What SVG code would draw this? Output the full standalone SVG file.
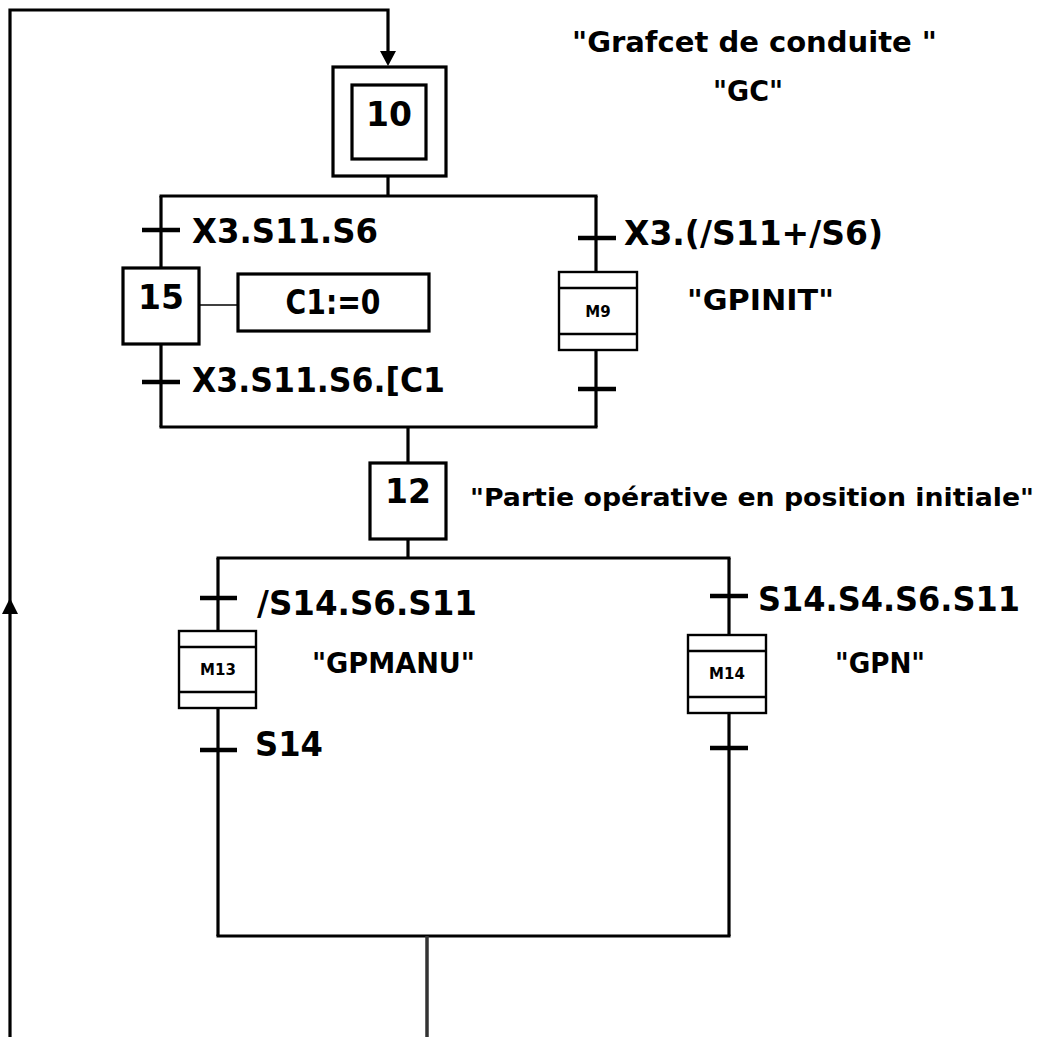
<svg xmlns="http://www.w3.org/2000/svg" width="1050" height="1037" viewBox="0 0 1050 1037">
<defs>
<style>
.ln{stroke:#000;stroke-width:3.2;fill:none}
.tr{stroke:#000;stroke-width:4.5;fill:none}
.box{stroke:#000;stroke-width:3.2;fill:#fff}
.mbox{stroke:#000;stroke-width:2.4;fill:#fff}
.t{font-family:"DejaVu Sans",sans-serif;font-weight:bold;fill:#000}
.big{font-size:33px}
.q{font-size:28px}
.sm{font-size:15px}
</style>
</defs>
<rect width="1050" height="1037" fill="#fff"/>

<g id="connectors">
<polyline class="ln" points="10,1037 10,10 388,10 388,52"/>
<polygon points="380,51 396,51 388,66" fill="#000"/>
<polygon points="2,614 18,614 10,598" fill="#000"/>
<line class="ln" x1="388" y1="176" x2="388" y2="196"/>
<line class="ln" x1="159.5" y1="196" x2="597.5" y2="196"/>
<line class="ln" x1="161" y1="196" x2="161" y2="268"/>
<line class="ln" x1="161" y1="344" x2="161" y2="427"/>
<line class="tr" x1="142" y1="230" x2="180" y2="230"/>
<line class="tr" x1="142" y1="382" x2="180" y2="382"/>
<line x1="199" y1="305" x2="238" y2="305" stroke="#000" stroke-width="1.6"/>
<line class="ln" x1="596" y1="196" x2="596" y2="272"/>
<line class="ln" x1="596" y1="350" x2="596" y2="427"/>
<line class="tr" x1="578" y1="238" x2="616" y2="238"/>
<line class="tr" x1="578" y1="389" x2="616" y2="389"/>
<line class="ln" x1="159.5" y1="427" x2="597.5" y2="427"/>
<line class="ln" x1="408" y1="427" x2="408" y2="463"/>
<line class="ln" x1="408" y1="539" x2="408" y2="558"/>
<line class="ln" x1="216.5" y1="558" x2="730.5" y2="558"/>
<line class="ln" x1="218" y1="558" x2="218" y2="631"/>
<line class="ln" x1="218" y1="708" x2="218" y2="936"/>
<line class="tr" x1="200" y1="598" x2="237" y2="598"/>
<line class="tr" x1="200" y1="750" x2="237" y2="750"/>
<line class="ln" x1="729" y1="558" x2="729" y2="635"/>
<line class="ln" x1="729" y1="713" x2="729" y2="936"/>
<line class="tr" x1="710" y1="596" x2="748" y2="596"/>
<line class="tr" x1="710" y1="748" x2="748" y2="748"/>
<line class="ln" x1="216.5" y1="936" x2="730.5" y2="936"/>
<line x1="427" y1="936" x2="427" y2="1037" stroke="#333" stroke-width="3.5"/>
</g>

<g id="step10">
<rect class="box" x="333" y="67" width="113" height="109"/>
<rect class="box" x="352" y="85" width="74" height="74"/>
<text class="t big" x="389" y="126" text-anchor="middle">10</text>
</g>

<g id="step15">
<rect class="box" x="123" y="268" width="76" height="76"/>
<text class="t big" x="161" y="309" text-anchor="middle">15</text>
</g>

<g id="action15">
<rect class="box" x="238" y="274" width="191" height="57"/>
<text class="t big" x="333" y="314" text-anchor="middle" textLength="95" lengthAdjust="spacingAndGlyphs">C1:=0</text>
</g>

<g id="m9">
<rect class="mbox" x="559" y="272" width="78" height="78"/>
<line x1="559" y1="288" x2="637" y2="288" stroke="#000" stroke-width="2.4"/>
<line x1="559" y1="334" x2="637" y2="334" stroke="#000" stroke-width="2.4"/>
<text class="t sm" x="598" y="317" text-anchor="middle">M9</text>
</g>

<g id="step12">
<rect class="box" x="370" y="463" width="76" height="76"/>
<text class="t big" x="408" y="503" text-anchor="middle">12</text>
</g>

<g id="m13">
<rect class="mbox" x="179" y="631" width="77" height="77"/>
<line x1="179" y1="647" x2="256" y2="647" stroke="#000" stroke-width="2.4"/>
<line x1="179" y1="692" x2="256" y2="692" stroke="#000" stroke-width="2.4"/>
<text class="t sm" x="218" y="675" text-anchor="middle">M13</text>
</g>

<g id="m14">
<rect class="mbox" x="688" y="635" width="78" height="78"/>
<line x1="688" y1="651" x2="766" y2="651" stroke="#000" stroke-width="2.4"/>
<line x1="688" y1="697" x2="766" y2="697" stroke="#000" stroke-width="2.4"/>
<text class="t sm" x="727" y="679" text-anchor="middle">M14</text>
</g>

<g id="labels">
<text class="t q" x="572" y="52" textLength="365" lengthAdjust="spacingAndGlyphs">"Grafcet de conduite "</text>
<text class="t q" x="713" y="101" textLength="70" lengthAdjust="spacingAndGlyphs">"GC"</text>
<text class="t big" x="192" y="243" textLength="186" lengthAdjust="spacingAndGlyphs">X3.S11.S6</text>
<text class="t big" x="624" y="245" textLength="259" lengthAdjust="spacingAndGlyphs">X3.(/S11+/S6)</text>
<text class="t q" x="687" y="310" textLength="147" lengthAdjust="spacingAndGlyphs">"GPINIT"</text>
<text class="t big" x="192" y="392" textLength="253" lengthAdjust="spacingAndGlyphs">X3.S11.S6.[C1</text>
<text class="t" x="470" y="506" font-size="25" textLength="564" lengthAdjust="spacingAndGlyphs">"Partie opérative en position initiale"</text>
<text class="t big" x="257" y="615" textLength="220" lengthAdjust="spacingAndGlyphs">/S14.S6.S11</text>
<text class="t big" x="758" y="611" textLength="262" lengthAdjust="spacingAndGlyphs">S14.S4.S6.S11</text>
<text class="t q" x="312" y="673" textLength="163" lengthAdjust="spacingAndGlyphs">"GPMANU"</text>
<text class="t q" x="835" y="673" textLength="90" lengthAdjust="spacingAndGlyphs">"GPN"</text>
<text class="t big" x="255" y="756" textLength="68" lengthAdjust="spacingAndGlyphs">S14</text>
</g>
</svg>
